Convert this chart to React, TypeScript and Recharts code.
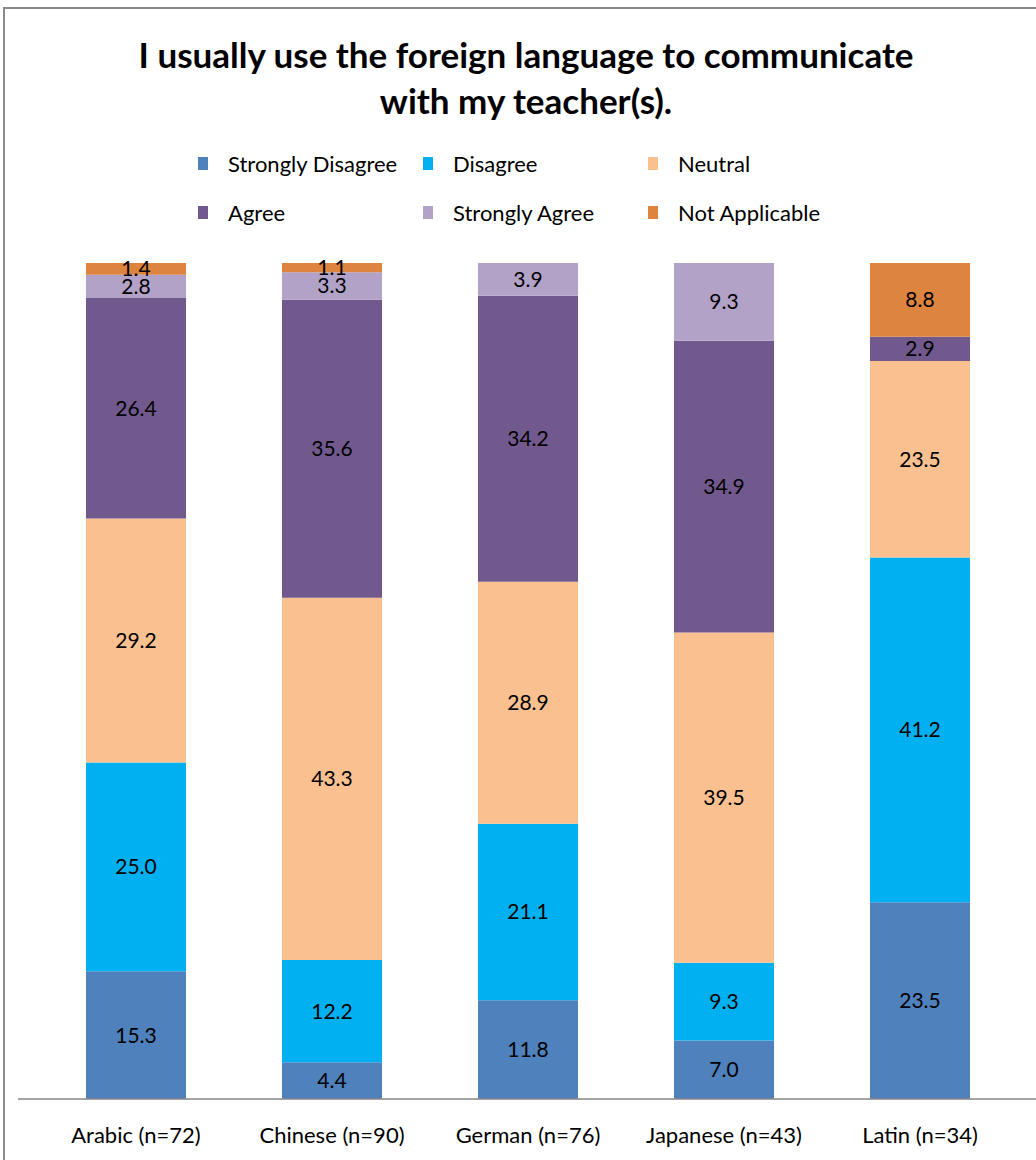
import React from "react"
import { BarChart, Bar, XAxis, YAxis, LabelList } from "recharts"

// categories and series (percent of respondents)
const languages = ["Arabic (n=72)", "Chinese (n=90)", "German (n=76)", "Japanese (n=43)", "Latin (n=34)"]
const stronglyDisagree = [15.3, 4.4, 11.8, 7.0, 23.5]
const disagree = [25.0, 12.2, 21.1, 9.3, 41.2]
const neutral = [29.2, 43.3, 28.9, 39.5, 23.5]
const agree = [26.4, 35.6, 34.2, 34.9, 2.9]
const stronglyAgree = [2.8, 3.3, 3.9, 9.3, 0]
const notApplicable = [1.4, 1.1, 0, 0, 8.8]

const series = [
  { key: "sd", name: "Strongly Disagree", color: "#4F81BD", values: stronglyDisagree },
  { key: "d", name: "Disagree", color: "#00B0F0", values: disagree },
  { key: "n", name: "Neutral", color: "#FAC090", values: neutral },
  { key: "a", name: "Agree", color: "#71598E", values: agree },
  { key: "sa", name: "Strongly Agree", color: "#B3A2C7", values: stronglyAgree },
  { key: "na", name: "Not Applicable", color: "#DD843F", values: notApplicable },
]

const data = languages.map((lang, i) => {
  const row: Record<string, string | number> = { lang }
  series.forEach((s) => (row[s.key] = s.values[i]))
  return row
})

const font = "Lato, 'Liberation Sans', sans-serif"

// empty segments get no label
const fmt = (v: any) => (Number(v) > 0 ? Number(v).toFixed(1) : "")

const App = () => {
  return (
    <div style={{ position: "absolute", left: 0, top: 0, width: 1036, height: 1160, overflow: "hidden", background: "#fff", fontFamily: font }}>
      {/* chart frame */}
      <div style={{ position: "absolute", left: 3, top: 7, width: 1060, height: 1200, border: "2px solid #8a8a8a" }} />

      {/* title */}
      <div style={{ position: "absolute", left: 0, top: 31, width: 1052, textAlign: "center", fontSize: 35, fontWeight: 700, lineHeight: "46px", color: "#000" }}>
        I usually use the foreign language to communicate
        <br />
        with my teacher(s).
      </div>

      {/* legend */}
      {series.map((s, i) => (
        <div
          key={s.key}
          style={{
            position: "absolute",
            left: 198 + (i % 3) * 225,
            top: 150 + Math.floor(i / 3) * 49,
            height: 26,
            display: "flex",
            alignItems: "center",
            fontSize: 22,
            color: "#000",
            whiteSpace: "nowrap",
          }}
        >
          <span style={{ display: "inline-block", width: 10, height: 13, background: s.color, marginRight: 20 }} />
          {s.name}
        </div>
      ))}

      <div style={{ position: "absolute", left: 0, top: 0 }}>
        <BarChart
          width={1036}
          height={1160}
          data={data}
          stackOffset="expand"
          margin={{ top: 263, right: 0, left: 18, bottom: 0 }}
        >
          <XAxis
            dataKey="lang"
            height={61}
            padding={{ left: 20, right: 18 }}
            axisLine={{ stroke: "#868686", strokeWidth: 1.5 }}
            tickLine={false}
            tickSize={0}
            tickMargin={28}
            tick={{ fontSize: 22, fill: "#000", fontFamily: font }}
            interval={0}
          />
          <YAxis hide domain={[0, 1]} />
          {series.map((s) => (
            <Bar key={s.key} dataKey={s.key} name={s.name} stackId="all" fill={s.color} barSize={100} isAnimationActive={false}>
              <LabelList dataKey={s.key} position="center" formatter={fmt} style={{ fontSize: 21, fill: "#000", fontFamily: font }} />
            </Bar>
          ))}
        </BarChart>
      </div>
    </div>
  )
}

export default App
